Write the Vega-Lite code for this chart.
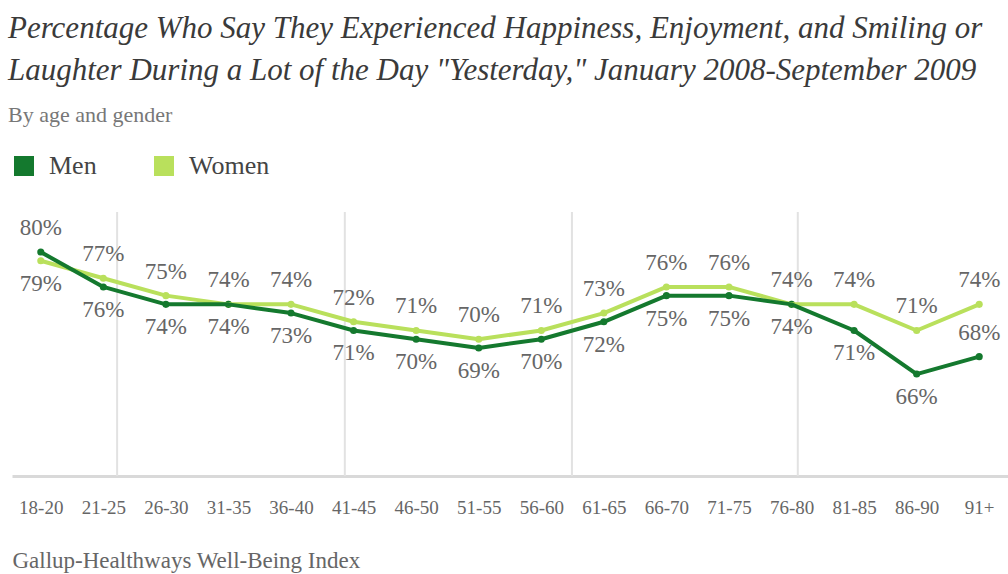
{
  "$schema": "https://vega.github.io/schema/vega-lite/v6.json",
  "autosize": {"type": "none"},
  "width": 996,
  "height": 264,
  "padding": {"left": 12, "top": 212, "right": 0, "bottom": 98},
  "background": "white",
  "config": {"view": {"stroke": null}},
  "title": {
    "text": ["Percentage Who Say They Experienced Happiness, Enjoyment, and Smiling or", "Laughter During a Lot of the Day \"Yesterday,\" January 2008-September 2009"],
    "subtitle": "By age and gender",
    "anchor": "start",
    "frame": "group",
    "font": "Liberation Serif",
    "fontStyle": "italic",
    "fontWeight": "normal",
    "fontSize": 31,
    "lineHeight": 42,
    "color": "#3a3a3a",
    "subtitleFont": "Liberation Serif",
    "subtitleFontSize": 22,
    "subtitleColor": "#777777",
    "subtitlePadding": 18,
    "offset": 26,
    "dx": -4
  },
  "datasets": {
    "main": [
      {"age": "18-20", "gender": "Women", "value": 0.79},
      {"age": "21-25", "gender": "Women", "value": 0.77},
      {"age": "26-30", "gender": "Women", "value": 0.75},
      {"age": "31-35", "gender": "Women", "value": 0.74},
      {"age": "36-40", "gender": "Women", "value": 0.74},
      {"age": "41-45", "gender": "Women", "value": 0.72},
      {"age": "46-50", "gender": "Women", "value": 0.71},
      {"age": "51-55", "gender": "Women", "value": 0.70},
      {"age": "56-60", "gender": "Women", "value": 0.71},
      {"age": "61-65", "gender": "Women", "value": 0.73},
      {"age": "66-70", "gender": "Women", "value": 0.76},
      {"age": "71-75", "gender": "Women", "value": 0.76},
      {"age": "76-80", "gender": "Women", "value": 0.74},
      {"age": "81-85", "gender": "Women", "value": 0.74},
      {"age": "86-90", "gender": "Women", "value": 0.71},
      {"age": "91+", "gender": "Women", "value": 0.74},
      {"age": "18-20", "gender": "Men", "value": 0.80},
      {"age": "21-25", "gender": "Men", "value": 0.76},
      {"age": "26-30", "gender": "Men", "value": 0.74},
      {"age": "31-35", "gender": "Men", "value": 0.74},
      {"age": "36-40", "gender": "Men", "value": 0.73},
      {"age": "41-45", "gender": "Men", "value": 0.71},
      {"age": "46-50", "gender": "Men", "value": 0.70},
      {"age": "51-55", "gender": "Men", "value": 0.69},
      {"age": "56-60", "gender": "Men", "value": 0.70},
      {"age": "61-65", "gender": "Men", "value": 0.72},
      {"age": "66-70", "gender": "Men", "value": 0.75},
      {"age": "71-75", "gender": "Men", "value": 0.75},
      {"age": "76-80", "gender": "Men", "value": 0.74},
      {"age": "81-85", "gender": "Men", "value": 0.71},
      {"age": "86-90", "gender": "Men", "value": 0.66},
      {"age": "91+", "gender": "Men", "value": 0.68}
    ],
    "grid": [{"g": 1.22}, {"g": 4.86}, {"g": 8.49}, {"g": 12.1}]
  },
  "resolve": {"scale": {"x": "independent"}},
  "layer": [
    {
      "data": {"name": "grid"},
      "mark": {"type": "rule", "color": "#e2e2e2", "strokeWidth": 2},
      "encoding": {
        "x": {"field": "g", "type": "quantitative", "scale": {"domain": [-0.46, 15.46], "nice": false, "zero": false}, "axis": null}
      }
    },
    {
      "data": {"name": "main"},
      "encoding": {
        "x": {
          "field": "age", "type": "ordinal",
          "sort": ["18-20","21-25","26-30","31-35","36-40","41-45","46-50","51-55","56-60","61-65","66-70","71-75","76-80","81-85","86-90","91+"],
          "scale": {"type": "point", "padding": 0.46},
          "axis": {
            "title": "Gallup-Healthways Well-Being Index",
            "titleAnchor": "start", "titleAlign": "left", "titleFont": "Liberation Serif", "titleFontSize": 23, "titleFontWeight": "normal", "titleColor": "#666666", "titlePadding": 32,
            "labelFont": "Liberation Serif", "labelFontSize": 19, "labelColor": "#666666", "labelPadding": 22, "labelAngle": 0, "labelOverlap": false,
            "ticks": false, "grid": false, "domainColor": "#d9d9d9", "domainWidth": 3
          }
        },
        "y": {"field": "value", "type": "quantitative", "scale": {"domain": [0.543, 0.846], "nice": false, "zero": false}, "axis": null},
        "color": {"field": "gender", "type": "nominal", "scale": {"domain": ["Men", "Women"], "range": ["#14792e", "#b9e05c"]},
          "legend": {"title": null, "orient": "none", "legendX": -1, "legendY": -59, "direction": "horizontal", "symbolType": "square", "symbolSize": 400, "symbolStrokeWidth": 0, "symbolOpacity": 1, "labelFont": "Liberation Serif", "labelFontSize": 26, "labelColor": "#444444", "labelOffset": 12, "columnPadding": 54}}
      },
      "layer": [
        {
          "mark": {"type": "circle", "size": 50, "opacity": 1}
        },
        {
          "mark": {"type": "line", "strokeWidth": 4, "strokeJoin": "round", "strokeCap": "round"},
          "encoding": {
            "order": {"field": "gender", "sort": "descending"}
          }
        },
        {
          "transform": [{"filter": "datum.gender == 'Men' && datum.age != '18-20' && datum.age != '91+'"}],
          "mark": {"type": "text", "dy": 23, "font": "Liberation Serif", "fontSize": 23, "color": "#666666", "baseline": "middle"},
          "encoding": {"text": {"field": "value", "type": "quantitative", "format": ".0%"}, "color": {"value": "#666666"}}
        },
        {
          "transform": [{"filter": "datum.gender == 'Men' && (datum.age == '18-20' || datum.age == '91+')"}],
          "mark": {"type": "text", "dy": -24, "font": "Liberation Serif", "fontSize": 23, "color": "#666666", "baseline": "middle"},
          "encoding": {"text": {"field": "value", "type": "quantitative", "format": ".0%"}, "color": {"value": "#666666"}}
        },
        {
          "transform": [{"filter": "datum.gender == 'Women' && datum.age != '18-20'"}],
          "mark": {"type": "text", "dy": -24, "font": "Liberation Serif", "fontSize": 23, "color": "#666666", "baseline": "middle"},
          "encoding": {"text": {"field": "value", "type": "quantitative", "format": ".0%"}, "color": {"value": "#666666"}}
        },
        {
          "transform": [{"filter": "datum.gender == 'Women' && datum.age == '18-20'"}],
          "mark": {"type": "text", "dy": 23, "font": "Liberation Serif", "fontSize": 23, "color": "#666666", "baseline": "middle"},
          "encoding": {"text": {"field": "value", "type": "quantitative", "format": ".0%"}, "color": {"value": "#666666"}}
        }
      ]
    }
  ]
}
